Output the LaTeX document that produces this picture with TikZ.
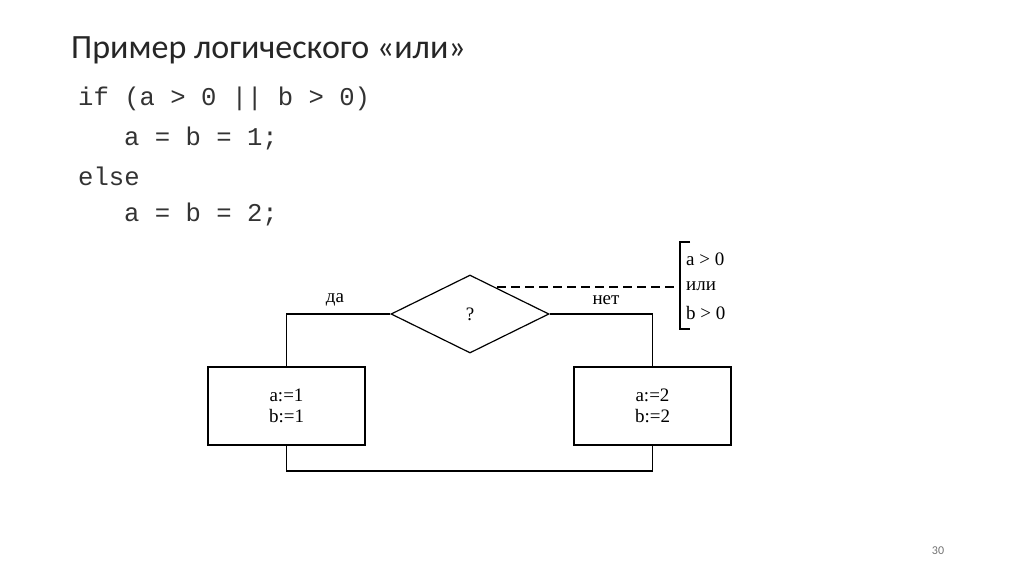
\documentclass[tikz,border=0pt]{standalone}
\usepackage{fontspec}
\setmainfont{Liberation Serif}
\newfontfamily\titlefont{Carlito}
\newfontfamily\codefont{Liberation Mono}
\usetikzlibrary{shapes.geometric}
\begin{document}
\begin{tikzpicture}[x=1pt,y=-1pt,
  ln/.style={line width=1.2pt},
  codeline/.style={anchor=west,inner sep=0pt,text=black!80,font=\codefont\fontsize{25.6}{26}\selectfont},
  lbl/.style={inner sep=0pt,font=\fontsize{19}{21}\selectfont}]
\useasboundingbox[fill=white] (0,0) rectangle (1024,574);
\node[anchor=west,inner sep=0pt,font=\titlefont\fontsize{34}{36}\selectfont,text=black!85] (title) at (71,50) {Пример логического «или»};
\node[codeline] (c1) at (78,99) {if (a > 0 || b > 0)};
\node[codeline] (c2) at (124,138) {a = b = 1;};
\node[codeline] (c3) at (78,176) {else};
\node[codeline] (c4) at (124,214) {a = b = 2;};
\node[diamond,draw,ln,minimum width=158pt,minimum height=78pt,aspect=2,inner sep=0pt,lbl] (d) at (470,314) {?};
\node[draw,ln,minimum width=157pt,minimum height=78pt,align=center,lbl] (b1) at (286.5,406) {a:=1\\b:=1};
\node[draw,ln,minimum width=157pt,minimum height=78pt,align=center,lbl] (b2) at (652.5,406) {a:=2\\b:=2};
\coordinate (dn) at (497,287);
\coordinate (br) at (680,287);
\draw[ln,dashed,dash pattern=on 9pt off 5pt] (dn) -- (br);
\draw[ln] (690,242) -- (680,242) -- (680,329) -- (690,329);
\node[lbl,anchor=west] (t1) at (686,259) {a > 0};
\node[lbl,anchor=west] (t2) at (686,286) {или};
\node[lbl,anchor=west] (t3) at (686,313) {b > 0};
\draw[ln] (d.west) -| (b1.north);
\draw[ln] (d.east) -| (b2.north);
\node[lbl] (yes) at (335,300) {да};
\node[lbl] (no) at (606,300) {нет};
\coordinate (bot) at (470,471);
\draw[ln] (b1.south) |- (bot) -| (b2.south);
\node[font=\titlefont\fontsize{12}{12}\selectfont,text=black!55] (pg) at (938,551) {30};
\end{tikzpicture}
\end{document}
